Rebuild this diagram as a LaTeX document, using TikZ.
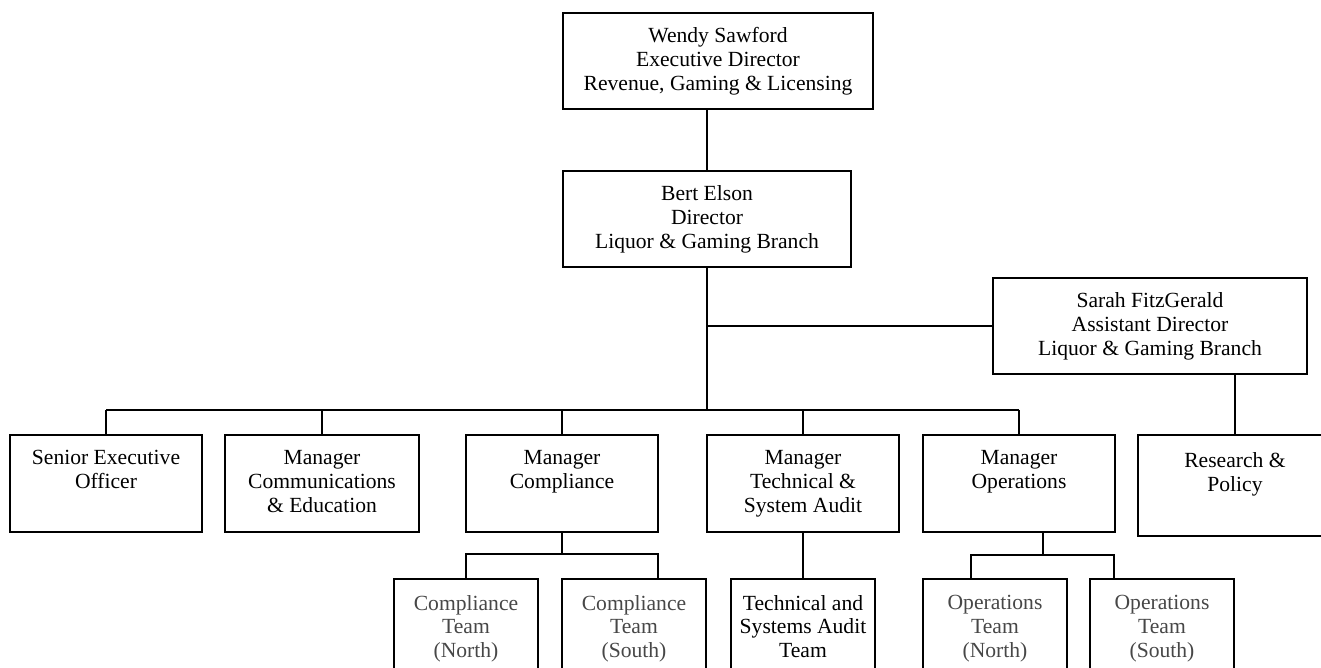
\documentclass[tikz,border=0pt]{standalone}
\usepackage{fontspec}
\setmainfont{Liberation Serif}
\newcommand\topbox[4][15pt]{\parbox[c][#3][t]{#2}{\centering\vspace*{#1}#4\par}}
\tikzset{
 box/.style={draw, line width=2pt, inner sep=0pt, font=\fontsize{21.6}{24}\selectfont},
 cbox/.style={box, align=center},
 link/.style={line width=2pt},
 team/.style={text=black!72}
}
\begin{document}
\begin{tikzpicture}[x=1pt,y=-1pt]
\useasboundingbox (0,0) rectangle (1321,667);
\clip (0,0) rectangle (1321,667);
\node[cbox, minimum width=310pt, minimum height=96pt] (wendy) at (718,61) {Wendy Sawford\\Executive Director\\Revenue, Gaming \& Licensing};
\node[cbox, minimum width=288pt, minimum height=96pt] (bert) at (707,219) {Bert Elson\\Director\\Liquor \& Gaming Branch};
\node[cbox, minimum width=314pt, minimum height=96pt] (sarah) at (1150,326) {Sarah FitzGerald\\Assistant Director\\Liquor \& Gaming Branch};
\node[box, anchor=north] (seo) at (106,434) {\topbox{192pt}{97pt}{Senior Executive\\Officer}};
\node[box, anchor=north] (comms) at (322,434) {\topbox{194pt}{97pt}{Manager\\Communications\\\& Education}};
\node[box, anchor=north] (compl) at (562,434) {\topbox{192pt}{97pt}{Manager\\Compliance}};
\node[box, anchor=north] (tech) at (803,434) {\topbox{192pt}{97pt}{Manager\\Technical \&\\System Audit}};
\node[box, anchor=north] (ops) at (1019,434) {\topbox{192pt}{97pt}{Manager\\Operations}};
\node[box, anchor=north] (research) at (1235,434) {\topbox[18pt]{194pt}{101pt}{Research \&\\Policy}};
\node[box, team, anchor=north] (ctn) at (466,578) {\topbox[16pt]{144pt}{100pt}{Compliance\\Team\\(North)}};
\node[box, team, anchor=north] (cts) at (634,578) {\topbox[16pt]{144pt}{100pt}{Compliance\\Team\\(South)}};
\node[box, anchor=north] (tsat) at (803,578) {\topbox[16pt]{144pt}{100pt}{Technical and\\Systems Audit\\Team}};
\node[box, team, anchor=north] (on) at (995,578) {\topbox[16pt]{144pt}{100pt}{Operations\\Team\\(North)}};
\node[box, team, anchor=north] (os) at (1162,578) {\topbox[16pt]{144pt}{100pt}{Operations\\Team\\(South)}};
% connectors
\draw[link] (bert.north) -- (bert.north |- wendy.south);
\coordinate (bus) at (707,410);
\draw[link] (bert.south) -- (bus);
\draw[link] (bert.south |- sarah.west) -- (sarah.west);
\draw[link] (seo.north |- bus) -- (ops.north |- bus);
\foreach \n in {seo,comms,compl,tech,ops} \draw[link] (\n.north) -- (\n.north |- bus);
\draw[link] (research.north) -- (research.north |- sarah.south);
\coordinate (cbus) at (562,554);
\coordinate (cR) at (658,554);
\draw[link] (compl.south) -- (cbus);
\draw[link] (ctn.north) -- (ctn.north |- cbus) -- (cR) -- (cR |- cts.north);
\draw[link] (tech.south) -- (tsat.north);
\coordinate (obus) at (1043,555);
\coordinate (oL) at (971,555);
\coordinate (oR) at (1114,555);
\draw[link] (ops.south -| obus) -- (obus);
\draw[link] (oL |- on.north) -- (oL) -- (oR) -- (oR |- os.north);
\end{tikzpicture}
\end{document}
